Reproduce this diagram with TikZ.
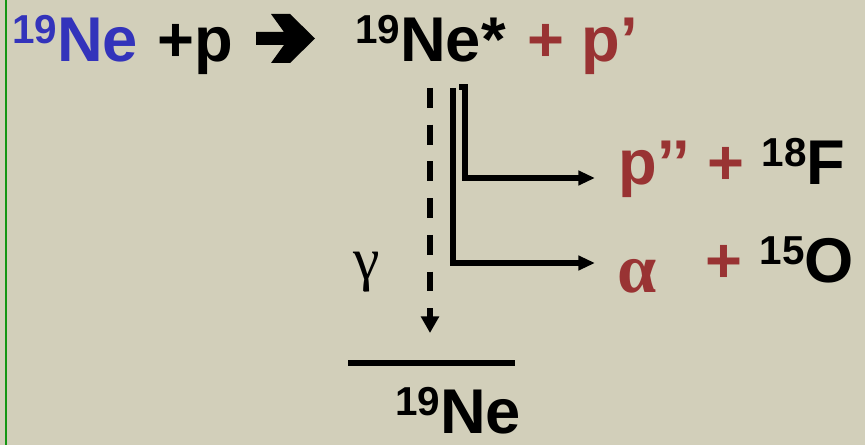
\documentclass[tikz,border=0pt]{standalone}
\usepackage{fontspec}
\setmainfont{Liberation Sans}
\newfontfamily\greekfont{Liberation Serif}
\usepackage{xcolor}
\usetikzlibrary{arrows.meta}
\definecolor{paper}{RGB}{210,207,186}
\definecolor{nublue}{RGB}{51,51,187}
\definecolor{nured}{RGB}{153,51,51}
\definecolor{edge}{RGB}{20,150,20}
\newcommand{\iso}[2]{\raisebox{10.5pt}{\fontsize{23}{23}\selectfont #1}#2}
\tikzset{
  txt/.style={inner sep=0pt,anchor=base west,font=\fontsize{36}{36}\selectfont\bfseries},
  greek/.style={inner sep=0pt,font=\fontsize{34}{34}\selectfont\greekfont},
  decay/.style={line width=2.9pt,-{Triangle[length=9.5pt,width=8pt]}},
  gam/.style={line width=2.9pt,dash pattern=on 11.3pt off 9.6pt,
              -{Triangle[length=9.5pt,width=10pt]}},
  level/.style={fill=black,inner sep=0pt,minimum width=3.34cm,minimum height=2.9pt},
}
\begin{document}
\begin{tikzpicture}[x=0.02cm,y=-0.02cm]
  \fill[paper] (0,0) rectangle (865,445);
  \useasboundingbox (0,0) rectangle (865,445);
  \draw[edge,line width=1.2pt] (6,0) -- (6,445);
  % reaction
  \node[txt,text=nublue] (ne) at (12,62) {\iso{19}{Ne}};
  \node[txt] (pin) at (157,62) {+p};
  \fill (256,32) -- (284,32) -- (271,14) -- (290,14) -- (315,38.5)
        -- (290,63) -- (271,63) -- (284,45) -- (256,45) -- cycle;
  \node[txt] (cn) at (355,62) {\iso{19}{Ne*}};
  \node[txt,text=nured] (pout) at (527,62) {+ p’};
  % products
  \node[txt] (pch) at (618,185) {\textcolor{nured}{p’’ +} \iso{18}{F}};
  \node[greek,font=\fontsize{40}{40}\selectfont\greekfont\bfseries,text=nured] (al) at (637,276) {α};
  \node[txt] (ach) at (705,283) {\textcolor{nured}{+} \iso{15}{O}};
  \node[greek] (ga) at (367,272) {γ};
  \node[level] (gs) at (431.5,363) {};
  \node[txt] (gsl) at (395,434) {\iso{19}{Ne}};
  % decay paths
  \coordinate (gtop) at (430,88);
  \coordinate (gend) at (430,333);
  \coordinate (atop) at (453,88);
  \coordinate (aend) at (595,263);
  \coordinate (ptop) at (459,87);
  \coordinate (pend) at (595,178);
  \draw[gam] (gtop) -- (gend);
  \draw[decay] (atop) |- (aend);
  \draw[decay] (ptop) -- ++(6,0) |- (pend);
\end{tikzpicture}
\end{document}
